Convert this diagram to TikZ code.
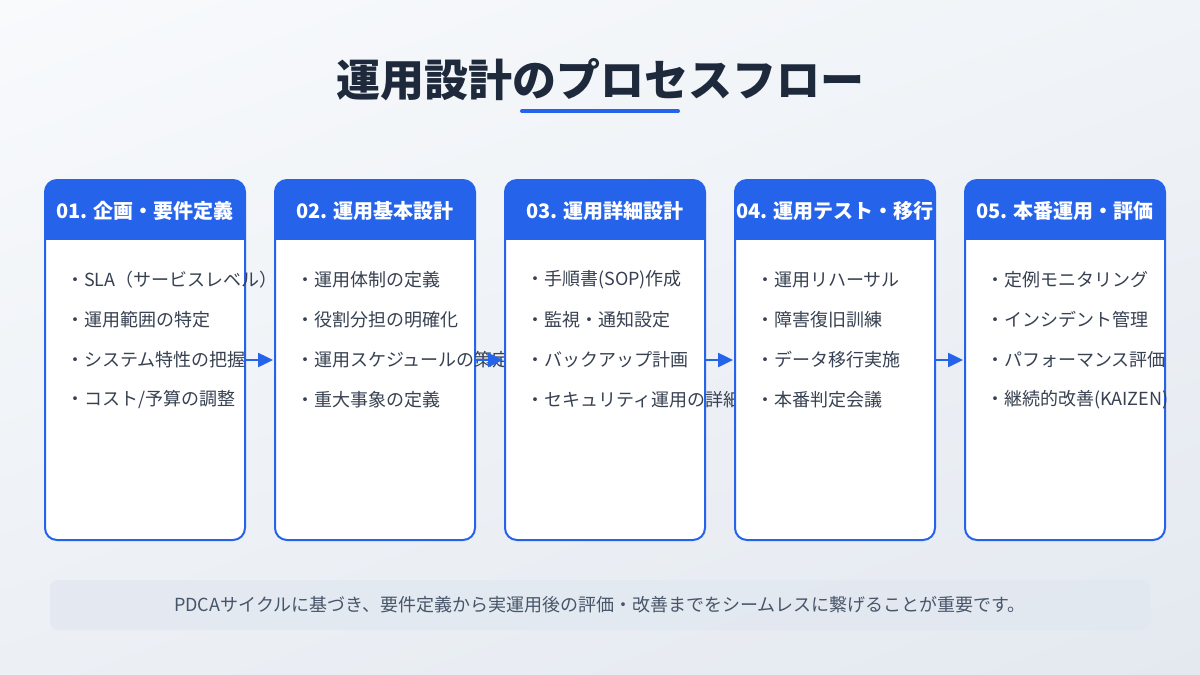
\documentclass[tikz,border=0pt]{standalone}
\usepackage{fontspec}
\setmainfont{Noto Sans CJK JP}
\usepackage{tikz}
\usetikzlibrary{
  arrows.meta, positioning, calc, shadings
}
\definecolor{brand}{HTML}{2563EB}
\definecolor{ink}{HTML}{1E293B}
\definecolor{body}{HTML}{374151}
\definecolor{muted}{HTML}{475569}
\definecolor{bgtop}{HTML}{F8FAFC}
\definecolor{bgbot}{HTML}{E4E9F0}
\definecolor{notefill}{HTML}{E2E8F0}

\begin{document}
\begin{tikzpicture}[x=1pt, y=-1pt,
  card/.style={draw=brand, line width=2pt, fill=white, rounded corners=12pt,
    minimum width=200pt, minimum height=360pt, outer sep=0pt, inner sep=0pt},
  head/.style={text=white, font=\fontsize{20}{24}\selectfont\bfseries},
  item/.style={anchor=west, text=body, inner sep=0pt,
    font=\fontsize{18}{22}\selectfont},
  flow/.style={brand, line width=2.5pt, shorten >=2pt,
    -{Triangle[length=15pt, width=14pt]}}]
  % Background
  \useasboundingbox (0,0) rectangle (1200,675);
  \shade[upper left=bgtop, upper right=bgtop!60!bgbot,
    lower left=bgtop!40!bgbot, lower right=bgbot] (0,0) rectangle (1200,675);

  % Title
  \node[text=ink, font=\fontsize{44}{50}\selectfont\bfseries] (title) at (600,80)
    {運用設計のプロセスフロー};
  \draw[brand, line width=4pt, line cap=round] (522,111) -- (678,111);

  % Steps
  \foreach \i/\head/\items in {
    1/{01. 企画・要件定義}/{SLA（サービスレベル）,運用範囲の特定,システム特性の把握,コスト/予算の調整},
    2/{02. 運用基本設計}/{運用体制の定義,役割分担の明確化,運用スケジュールの策定,重大事象の定義},
    3/{03. 運用詳細設計}/{手順書(SOP)作成,監視・通知設定,バックアップ計画,セキュリティ運用の詳細},
    4/{04. 運用テスト・移行}/{運用リハーサル,障害復旧訓練,データ移行実施,本番判定会議},
    5/{05. 本番運用・評価}/{定例モニタリング,インシデント管理,パフォーマンス評価,継続的改善(KAIZEN)}}
  {
    \node[card] (card\i) at ({145+230*(\i-1)},360) {};
    \begin{scope}
      \clip[rounded corners=12pt] (card\i.north west) rectangle (card\i.south east);
      \fill[brand] (card\i.north west) rectangle ($(card\i.north east)+(0,60)$);
    \end{scope}
    \node[head] (head\i) at ($(card\i.north)+(0,31)$) {\head};
    \foreach \t [count=\k] in \items
      \node[item] (item\i-\k) at ($(card\i.north west)+(21,60+40*\k)$) {・\t};
  }

  % Flow
  \foreach \i [evaluate=\i as \j using int(\i+1)] in {1,...,4}
    \draw[flow] (card\i.east) -- (card\j.west);

  % Note
  \node[fill=notefill, fill opacity=.8, text opacity=1, rounded corners=8pt,
    minimum width=1100pt, minimum height=50pt, text=muted,
    font=\fontsize{18}{22}\selectfont] (note) at (600,605)
    {PDCAサイクルに基づき、要件定義から実運用後の評価・改善までをシームレスに繋げることが重要です。};
\end{tikzpicture}
\end{document}
